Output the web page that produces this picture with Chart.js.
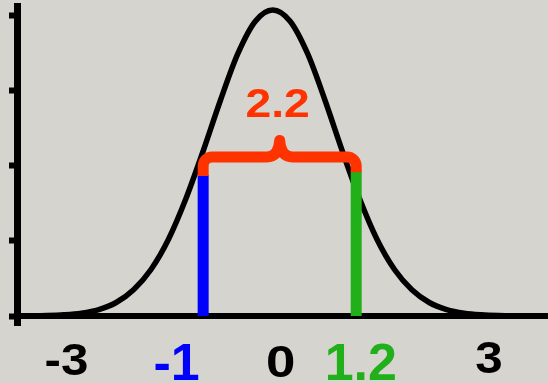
<!DOCTYPE html>
<html>
<head>
<meta charset="utf-8">
<script src="https://cdn.jsdelivr.net/npm/chart.js@4/dist/chart.umd.min.js"></script>
<style>
  html, body { margin: 0; padding: 0; background: #d6d4cf; }
  #wrap { width: 548px; height: 383px; position: relative; }
</style>
</head>
<body>
<div id="wrap"><canvas id="c"></canvas></div>
<script>
// ---- data ----
const curveX = [-3.75, -3.5, -3.25, -3, -2.75, -2.5, -2.25, -2, -1.75, -1.5, -1.25, -1, -0.75, -0.5, -0.25, 0,
                0.25, 0.5, 0.75, 1, 1.25, 1.5, 1.75, 2, 2.25, 2.5, 2.75, 3, 3.25, 3.5, 3.75, 4];
const curveY = [0, 0.002, 0.006, 0.016, 0.038, 0.086, 0.18, 0.35, 0.62, 1.02, 1.56, 2.20, 2.88, 3.50, 3.93, 4.08,
                3.93, 3.50, 2.88, 2.20, 1.56, 1.02, 0.62, 0.35, 0.18, 0.086, 0.038, 0.016, 0.006, 0.002, 0, 0];
const markerX = [-1, 1.2];
const markerTop = [1.88, 1.93];
const gapText = '2.2';
const braceLevel = 2.12;
const braceTip = 2.34;
const xTickValues = [-3, -1, 0, 1.2, 3];
const xTickLabels = ['-3', '-1', '0', '1.2', '3'];
const yTickValues = [0, 1, 2, 3, 4];

// ---- styles ----
const labelColors = ['#000000', '#0000ff', '#000000', '#22b01a', '#000000'];
const labelSizes = [44, 52, 44, 52, 44];
const labelStretch = [1.12, 1.0, 1.2, 1.0, 1.12];
const labelNudge = [2.5, -26.5, 8, 4.6, 7.5];
const labelBase = [375, 380, 377, 380, 373];

function stretchedText(ctx, text, x, y, sx) {
  ctx.save();
  ctx.translate(x, y);
  ctx.scale(sx, 1);
  ctx.fillText(text, 0, 0);
  ctx.restore();
}

const bgPlugin = {
  id: 'bg',
  beforeDraw(chart) {
    const ctx = chart.ctx;
    ctx.save();
    ctx.fillStyle = '#d6d4cf';
    ctx.fillRect(0, 0, chart.width, chart.height);
    ctx.restore();
  }
};

const annoPlugin = {
  id: 'anno',
  afterDatasetsDraw(chart) {
    const ctx = chart.ctx;
    const xs = chart.scales.x, ys = chart.scales.y;
    const L = xs.getPixelForValue(markerX[0]);
    const R = xs.getPixelForValue(markerX[1]);
    const yL = ys.getPixelForValue(markerTop[0]);
    const yR = ys.getPixelForValue(markerTop[1]);
    const hy = ys.getPixelForValue(braceLevel);
    const tip = ys.getPixelForValue(braceTip);
    const mid = (L + R) / 2;
    const r = 9;
    ctx.save();
    ctx.strokeStyle = '#ff3300';
    ctx.lineWidth = 11;
    ctx.lineJoin = 'round';
    ctx.lineCap = 'butt';
    ctx.beginPath();
    ctx.moveTo(L, yL + 1);
    ctx.lineTo(L, hy + r);
    ctx.arcTo(L, hy, L + r, hy, r);
    ctx.lineTo(mid - 13, hy);
    ctx.quadraticCurveTo(mid - 1, hy, mid, tip);
    ctx.quadraticCurveTo(mid + 1, hy, mid + 13, hy);
    ctx.lineTo(R - r, hy);
    ctx.arcTo(R, hy, R, hy + r, r);
    ctx.lineTo(R, yR + 1);
    ctx.stroke();

    ctx.fillStyle = '#ff3300';
    ctx.font = 'bold 41px "Liberation Sans", Arial, sans-serif';
    ctx.textAlign = 'center';
    ctx.textBaseline = 'alphabetic';
    stretchedText(ctx, gapText, mid - 2, 117, 1.13);
    ctx.restore();
  },
  afterDraw(chart) {
    const ctx = chart.ctx;
    const xs = chart.scales.x;
    ctx.save();
    ctx.textAlign = 'center';
    ctx.textBaseline = 'alphabetic';
    xTickValues.forEach((v, i) => {
      ctx.fillStyle = labelColors[i];
      ctx.font = 'bold ' + labelSizes[i] + 'px "Liberation Sans", Arial, sans-serif';
      stretchedText(ctx, xTickLabels[i], xs.getPixelForValue(v) + labelNudge[i], labelBase[i], labelStretch[i]);
    });
    ctx.restore();
  }
};

new Chart(document.getElementById('c'), {
  type: 'line',
  data: {
    datasets: [
      {
        data: [{x: markerX[0], y: 0}, {x: markerX[0], y: markerTop[0]}],
        borderColor: '#0000ff', borderWidth: 11, borderCapStyle: 'butt',
        pointRadius: 0, tension: 0
      },
      {
        data: [{x: markerX[1], y: 0}, {x: markerX[1], y: markerTop[1]}],
        borderColor: '#22b01a', borderWidth: 11, borderCapStyle: 'butt',
        pointRadius: 0, tension: 0
      },
      {
        data: curveX.map((x, i) => ({x: x, y: curveY[i]})),
        borderColor: '#000000', borderWidth: 5.5, pointRadius: 0,
        cubicInterpolationMode: 'monotone', fill: false
      }
    ]
  },
  options: {
    responsive: true,
    maintainAspectRatio: false,
    devicePixelRatio: 1,
    animation: false,
    events: [],
    layout: { padding: { left: 9, right: 0, top: 6, bottom: 57 } },
    plugins: { legend: { display: false }, tooltip: { enabled: false } },
    scales: {
      x: {
        type: 'linear',
        min: -3.676,
        max: 3.957,
        afterBuildTicks(scale) { scale.ticks = [{value: scale.min}]; },
        ticks: { display: false },
        grid: { drawOnChartArea: false, drawTicks: true, tickLength: 10, tickWidth: 7, tickColor: '#000' },
        border: { display: true, color: '#000', width: 6 }
      },
      y: {
        type: 'linear',
        min: 0,
        max: 4.133,
        afterBuildTicks(scale) { scale.ticks = yTickValues.map(v => ({value: v})); },
        ticks: { display: false },
        grid: { drawOnChartArea: false, drawTicks: true, tickLength: 8, tickWidth: 6, tickColor: '#000' },
        border: { display: true, color: '#000', width: 7 }
      }
    }
  },
  plugins: [bgPlugin, annoPlugin]
});
</script>
</body>
</html>
